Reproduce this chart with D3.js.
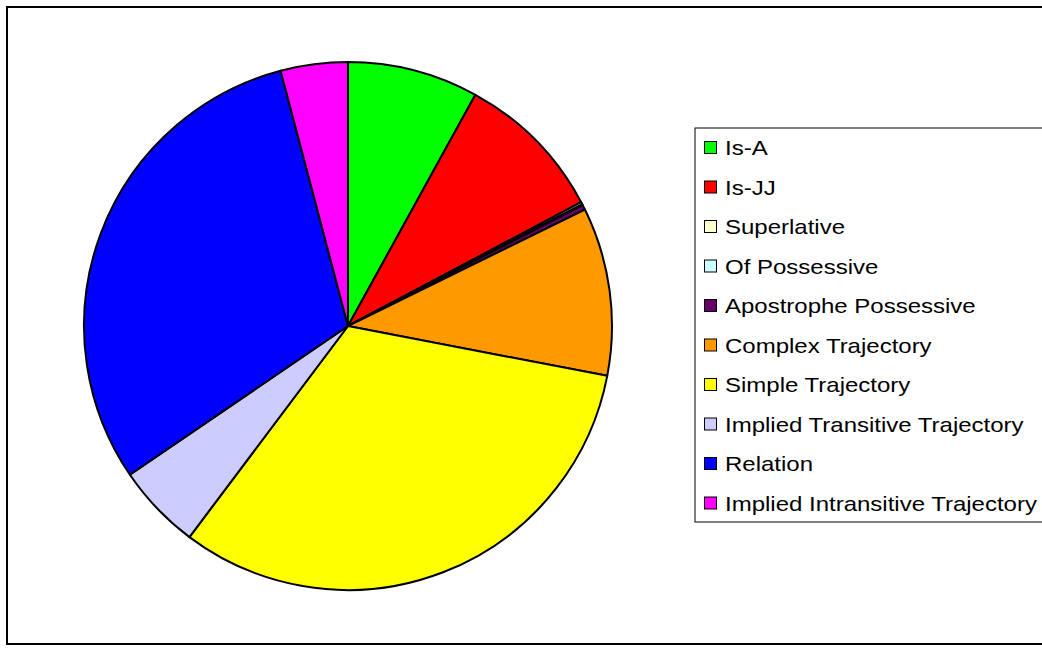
<!DOCTYPE html>
<html>
<head>
<meta charset="utf-8">
<script src="https://cdn.jsdelivr.net/npm/d3@7"></script>
<style>
  body { margin: 0; background: #fff; }
  svg { display: block; }
</style>
</head>
<body>
<script>
var labels = ['Is-A', 'Is-JJ', 'Superlative', 'Of Possessive', 'Apostrophe Possessive',
              'Complex Trajectory', 'Simple Trajectory', 'Implied Transitive Trajectory',
              'Relation', 'Implied Intransitive Trajectory'];
var values = [8.02, 9.22, 0.15, 0.05, 0.3, 10.3, 32.25, 5.22, 30.44, 4.11];
var colors = ['#00FF00', '#FF0000', '#FFFFCC', '#CCFFFF', '#660066',
              '#FF9900', '#FFFF00', '#CCCCFF', '#0000FF', '#FF00FF'];

var W = 1042, H = 648;
var cx = 348, cy = 326, r = 264;

var svg = d3.select('body').append('svg')
            .attr('width', W)
            .attr('height', H);

// outer frame
svg.append('rect')
    .attr('x', 7).attr('y', 7)
    .attr('width', W + 10).attr('height', 637)
    .attr('fill', 'none')
    .attr('stroke', 'black')
    .attr('stroke-width', 2);

var data = labels.map(function(d, i){ return {label: d, value: values[i], color: colors[i]}; });

var pie = d3.pie().sort(null).value(function(d){ return d.value; });
var arc = d3.arc().innerRadius(0).outerRadius(r);

svg.append('g')
    .attr('transform', 'translate(' + cx + ',' + cy + ')')
    .selectAll('path').data(pie(data)).enter()
    .append('path')
    .attr('d', arc)
    .attr('fill', function(d){ return d.data.color; })
    .attr('stroke', 'black')
    .attr('stroke-width', 2)
    .attr('stroke-linejoin', 'round');

// legend
var lx = 695, ly = 128, rowH = 39.5;
svg.append('rect')
    .attr('x', lx).attr('y', ly)
    .attr('width', 400).attr('height', 394)
    .attr('fill', 'white')
    .attr('stroke', 'black')
    .attr('stroke-width', 1);

var rows = svg.selectAll('g.leg').data(data).enter()
    .append('g')
    .attr('class', 'leg')
    .attr('transform', function(d, i){ return 'translate(' + lx + ',' + (ly + 20 + i * rowH) + ')'; });

rows.append('rect')
    .attr('x', 9.5).attr('y', -6.5)
    .attr('width', 12).attr('height', 12)
    .attr('fill', function(d){ return d.color; })
    .attr('stroke', 'black')
    .attr('stroke-width', 1);

// legend text in the picture is wider than plain Arial, so stretch it a bit
rows.append('text')
    .attr('transform', 'translate(30,7) scale(1.2,1)')
    .attr('font-family', 'Liberation Sans, Arial, sans-serif')
    .attr('font-size', 20)
    .attr('fill', 'black')
    .text(function(d){ return d.label; });
</script>
</body>
</html>
